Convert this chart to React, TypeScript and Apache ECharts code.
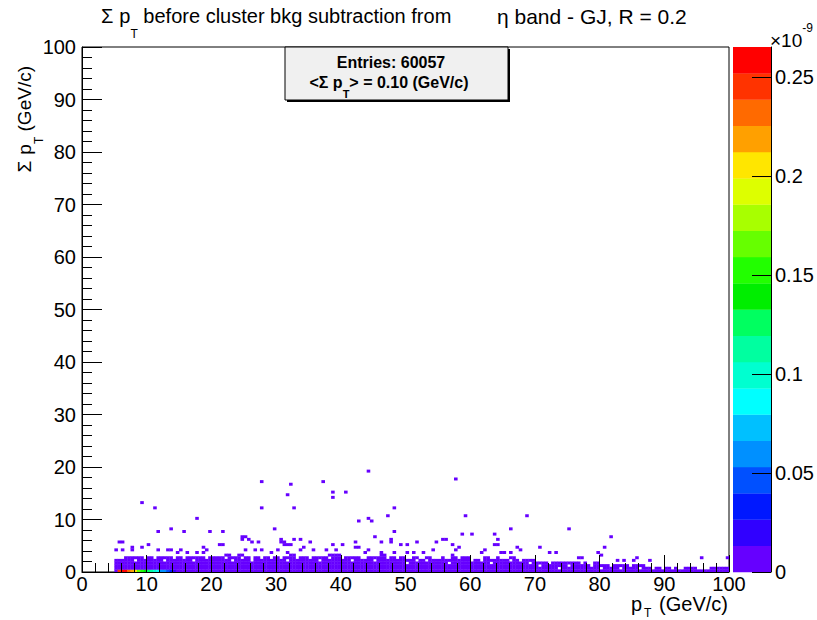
import React, { useEffect, useRef } from "react";
import * as echarts from "echarts";

// ---------------- data ----------------
const X_BIN = 0.5; // GeV/c
const Y_BIN = 0.5; // GeV/c
const Z_MAX = 0.2653; // colour scale maximum (x1e-9)
const DENSE_Z = 0.004; // content of the (violet) populated low bins

const X_TICKS = [0, 10, 20, 30, 40, 50, 60, 70, 80, 90, 100];
const Z_TICKS = [0, 0.05, 0.1, 0.15, 0.2, 0.25];

// ROOT "pretty" palette, 20 contours, from low (violet) to high (red)
const PALETTE = [
  "#6600ff", "#3000ff", "#0018ff", "#0050ff", "#0090ff",
  "#00c0ff", "#00ffff", "#00ffd0", "#00ffa0", "#00ff60",
  "#00ee00", "#22ff00", "#66ff00", "#a8ff00", "#ddff00",
  "#ffe600", "#ffa000", "#ff6a00", "#ff3300", "#ff0000",
];

// bottom row (lowest Σp_T bin), high-content bins at low p_T
const BOTTOM_X = [5.0, 5.5, 6.0, 6.5, 7.0, 7.5, 8.0, 8.5, 9.0, 9.5, 10.0, 10.5, 11.0, 11.5, 12.0, 12.5, 13.0, 13.5, 14.0, 14.5];
const BOTTOM_Z = [0.01, 0.25, 0.265, 0.255, 0.23, 0.215, 0.2, 0.17, 0.155, 0.145, 0.13, 0.11, 0.095, 0.085, 0.065, 0.055, 0.045, 0.035, 0.02, 0.012];

// populated band: for each 1 GeV/c column from p_T = 5, number of filled 0.5 GeV/c rows
const BAND_X0 = 5;
const BAND_ROWS = [
  5, 6, 6, 6, 6, 6, 6, 6, 6, 6,
  6, 6, 6, 6, 6, 6, 6, 7, 6, 7,
  6, 6, 6, 6, 6, 6, 6, 7, 6, 6,
  6, 6, 6, 7, 7, 6, 6, 6, 5, 6,
  6, 7, 6, 6, 6, 5, 6, 5, 6, 5,
  6, 5, 6, 6, 6, 5, 5, 6, 5, 6,
  5, 6, 5, 5, 5, 4, 4, 4, 4, 4,
  4, 4, 4, 3, 4, 3, 3, 3, 3, 3,
  3, 3, 2, 2, 2, 2, 2, 1, 2, 2,
  1, 1, 2, 2, 2,
];

// empty bins inside the band [p_T, Σp_T]
const HOLES = [
  [6.3, 2.7], [8.1, 2.2], [9.6, 2.7], [11.2, 2.7], [12.6, 2.2], [14.1, 2.7], [15.7, 2.7], [17.3, 2.2], [19.3, 2.7], [22.1, 2.7],
  [23.4, 2.2], [24.7, 2.7], [26.0, 2.7], [26.2, 2.0], [27.8, 2.7], [29.3, 2.7], [30.6, 2.7], [31.7, 2.1], [33.2, 2.7], [35.1, 2.7],
  [36.6, 2.2], [38.2, 2.7], [40.3, 2.7], [41.7, 2.2], [43.9, 2.7], [45.4, 2.2], [47.0, 2.7], [48.6, 2.7], [50.1, 1.7], [51.5, 2.2],
  [53.3, 2.2], [55.2, 2.7], [56.8, 1.7], [58.4, 2.7], [60.2, 2.2], [61.7, 2.2], [63.4, 1.7], [64.6, 2.7], [66.3, 2.2], [67.8, 2.2],
  [69.4, 1.7], [70.6, 1.2], [72.2, 1.7], [73.7, 0.7], [75.4, 1.2], [77.1, 1.7], [78.6, 1.2], [80.3, 0.7], [81.8, 1.2], [83.4, 0.7],
  [84.9, 1.2], [86.1, 0.7], [88.4, 0.7], [89.6, 0.7], [91.3, 0.7], [96.7, 0.7],
];

// isolated populated bins above the band [p_T, Σp_T]
const SPARSE = [
  [27.7, 17.1], [32.3, 16.7], [37.2, 17.2], [31.8, 14.7], [38.7, 15.1], [38.7, 14.3], [40.8, 15.1], [44.2, 19.2], [57.7, 17.9],
  [9.1, 13.1], [11.2, 12.2], [27.7, 12.2], [32.7, 12.2], [48.2, 12.2], [47.2, 10.7], [17.7, 10.2], [42.7, 9.6], [44.9, 9.6], [44.2, 10.2],
  [13.7, 8.3], [11.8, 7.6], [15.8, 7.9], [19.7, 7.6], [21.8, 7.6], [29.7, 8.0], [48.2, 7.6], [45.3, 6.7], [25.3, 6.7], [24.8, 6.3],
  [26.2, 5.9], [27.2, 5.9], [32.7, 6.3], [30.8, 5.9], [35.2, 5.6], [46.2, 5.9], [47.7, 5.9], [5.5, 5.9], [5.8, 5.5], [6.4, 5.5],
  [10.2, 5.1], [21.5, 5.1], [31.2, 5.1], [31.9, 5.1], [38.9, 5.1], [40.4, 5.1], [42.3, 5.6], [42.3, 4.5], [49.3, 5.1],
  [59.3, 10.7], [68.7, 10.7], [66.3, 8.4], [75.3, 8.0], [58.8, 7.2], [60.2, 7.2], [63.8, 7.2], [81.7, 6.7], [64.3, 6.0], [64.3, 5.1],
  [55.8, 6.0], [56.4, 6.0], [54.7, 5.6], [51.8, 5.6], [50.3, 5.1], [57.3, 5.1], [58.3, 4.7], [57.8, 4.3], [62.3, 4.4], [67.3, 4.7],
  [67.7, 4.0], [70.8, 4.7], [80.8, 4.7], [66.1, 3.9], [65.3, 3.7], [73.4, 3.9], [72.3, 3.6], [95.8, 2.7], [99.7, 2.7], [85.7, 2.7], [87.8, 2.1],
  [76.5, 2.7], [77.2, 2.7], [79.5, 3.7], [80.0, 3.2], [82.6, 2.3], [83.7, 2.3], [85.2, 2.1],
  [5.1, 4.0], [6.4, 4.0], [7.7, 4.7], [7.9, 4.0], [9.1, 4.7], [11.8, 4.0], [13.2, 4.4], [13.8, 4.0], [14.6, 3.6], [15.1, 4.0],
  [16.3, 3.6], [17.7, 3.6], [18.7, 3.6], [19.2, 4.0], [24.7, 6.5], [25.5, 6.1], [30.9, 6.1], [31.0, 5.6], [32.1, 5.3], [33.7, 6.1],
  [34.0, 4.6], [21.1, 5.3], [18.7, 4.6], [19.3, 4.2], [25.2, 4.4], [26.5, 4.0], [27.8, 4.0], [29.1, 3.6], [30.1, 4.0], [31.6, 3.6],
  [33.7, 4.4], [38.6, 5.3], [40.1, 5.3], [42.5, 4.8], [44.3, 4.0], [47.6, 6.1], [49.4, 5.3], [35.8, 4.0], [37.6, 4.4], [39.4, 4.2],
  [43.7, 3.6], [46.1, 3.6], [48.1, 3.6], [50.2, 3.6], [63.8, 5.1], [51.7, 5.6], [54.6, 5.6], [51.0, 3.6], [52.5, 3.6], [54.3, 4.0],
  [57.4, 3.1], [61.8, 3.6], [62.3, 4.0], [64.9, 3.6],
];

const ENTRIES = "60057";
const MEAN_SUMPT = "0.10";

// ---------------- helpers ----------------
const FONT = "Liberation Sans";

function colorFor(z: number) {
  const i = Math.min(PALETTE.length - 1, Math.max(0, Math.floor((z / Z_MAX) * PALETTE.length)));
  return PALETTE[i];
}

function buildCells() {
  const map = new Map<string, number[]>();
  const key = (xi: number, yi: number) => xi + "_" + yi;
  const put = (xi: number, yi: number, z: number) => {
    map.set(key(xi, yi), [xi * X_BIN, yi * Y_BIN, z]);
  };
  BAND_ROWS.forEach((rows, c) => {
    const x = BAND_X0 + c;
    for (let s = 0; s < 2; s++) {
      const xi = Math.round(x / X_BIN) + s;
      for (let r = 0; r < rows; r++) put(xi, r, DENSE_Z);
    }
  });
  HOLES.forEach(([x, y]) => map.delete(key(Math.floor(x / X_BIN), Math.floor(y / Y_BIN))));
  SPARSE.forEach(([x, y]) => put(Math.floor(x / X_BIN), Math.floor(y / Y_BIN), DENSE_Z));
  BOTTOM_X.forEach((x, i) => put(Math.round(x / X_BIN), 0, BOTTOM_Z[i]));
  return Array.from(map.values());
}

function subRich(size: number, subSize: number, offset: number, bold = false, lhMain?: number) {
  const lh = lhMain ?? Math.round(size * 1.25);
  const fw = bold ? "bold" : "normal";
  return {
    m: { fontSize: size, fontFamily: FONT, fontWeight: fw, color: "#000", lineHeight: lh, verticalAlign: "top" },
    s: { fontSize: subSize, fontFamily: FONT, fontWeight: fw, color: "#000", lineHeight: 2 * (lh / 2 + offset), verticalAlign: "middle" },
    g1: { fontSize: size, fontFamily: FONT, lineHeight: lh, verticalAlign: "top", width: 6 },
  };
}

function plainText(text: string, x: number, y: number, size: number, align: string, extra: any = {}) {
  return {
    type: "text", x: 0, y: 0, z: 10,
    style: { x, y, text, align, verticalAlign: "middle", fontSize: size, fontFamily: FONT, fill: "#000", lineHeight: size, ...extra },
  };
}

export default function App() {
  const ref = useRef<HTMLDivElement>(null);
  useEffect(() => {
    const chart = echarts.init(ref.current!, null, { renderer: "svg", width: 817, height: 620 });
    const cells = buildCells();
    const bands = PALETTE.map((_, i) => [i]);
    const axisCommon = {
      z: 10,
      axisLine: { show: true, onZero: false, lineStyle: { color: "#000", width: 1 } },
      splitLine: { show: false },
    };
    const option: any = {
      animation: false,
      backgroundColor: "#ffffff",
      textStyle: { fontFamily: FONT },
      grid: [
        { left: 82, top: 47, width: 647, height: 525, show: true, borderColor: "#000", borderWidth: 1, backgroundColor: "transparent", z: 0 },
        { left: 733, top: 47, width: 38, height: 525 },
      ],
      xAxis: [
        {
          gridIndex: 0, type: "value", min: 0, max: 100, interval: 10, ...axisCommon,
          axisTick: { show: true, inside: true, length: 17, lineStyle: { color: "#000" } },
          minorTick: { show: true, splitNumber: 5, length: 9, lineStyle: { color: "#000" } },
          axisLabel: { fontSize: 20, lineHeight: 16, color: "#000", margin: 4, fontFamily: FONT, customValues: X_TICKS },
        },
        { gridIndex: 1, type: "value", min: 0, max: 1, show: false },
      ],
      yAxis: [
        {
          gridIndex: 0, type: "value", min: 0, max: 100, interval: 10, position: "left", ...axisCommon,
          axisTick: { show: true, inside: true, length: 20, lineStyle: { color: "#000" } },
          minorTick: { show: true, splitNumber: 5, length: 10, lineStyle: { color: "#000" } },
          axisLabel: { fontSize: 20, color: "#000", margin: 6, fontFamily: FONT },
        },
        {
          gridIndex: 1, type: "value", min: 0, max: Z_MAX, position: "right", offset: 0, ...axisCommon,
          axisTick: { show: true, inside: true, length: 19, customValues: Z_TICKS, lineStyle: { color: "#000" } },
          axisLabel: { show: true, fontSize: 20, color: "#000", margin: 4, fontFamily: FONT, customValues: Z_TICKS, formatter: (v: number) => String(v) },
        },
      ],
      series: [
        {
          type: "custom",
          xAxisIndex: 0,
          yAxisIndex: 0,
          clip: true,
          z: 1,
          data: cells,
          renderItem: (_p: any, api: any) => {
            const x = api.value(0), y = api.value(1), z = api.value(2);
            const p0 = api.coord([x, y]);
            const p1 = api.coord([x + X_BIN, y + Y_BIN]);
            return {
              type: "rect",
              shape: { x: p0[0], y: p1[1], width: p1[0] - p0[0] + 0.35, height: p0[1] - p1[1] + 0.35 },
              style: { fill: colorFor(z) },
            };
          },
        },
        {
          type: "custom",
          xAxisIndex: 1,
          yAxisIndex: 1,
          z: 1,
          data: bands,
          renderItem: (_p: any, api: any) => {
            const i = api.value(0);
            const lo = (i * Z_MAX) / PALETTE.length;
            const hi = ((i + 1) * Z_MAX) / PALETTE.length;
            const p0 = api.coord([0, lo]);
            const p1 = api.coord([1, hi]);
            return {
              type: "rect",
              shape: { x: p0[0], y: p1[1], width: p1[0] - p0[0], height: p0[1] - p1[1] + 0.3 },
              style: { fill: PALETTE[i] },
            };
          },
        },
      ],
      graphic: [
        // title (two pieces, as ROOT's TLatex leaves a gap before the η)
        {
          type: "text", x: 0, y: 0, z: 10,
          style: {
            x: 101, y: 6, align: "left", verticalAlign: "top",
            text: "{m|Σ}{g1| }{m|p}{s|T}{m| before cluster bkg subtraction from}",
            rich: subRich(20, 12, 15),
          },
        },
        {
          type: "text", x: 0, y: 0, z: 10,
          style: {
            x: 497, y: 6, align: "left", verticalAlign: "top",
            text: "{m|η band - GJ, R = 0.2}",
            rich: subRich(21, 12, 15),
          },
        },
        // x axis title: p_T (GeV/c)
        plainText("p", 631, 604, 20, "left", { lineHeight: 18 }),
        plainText("T", 644, 613, 12, "left"),
        plainText("(GeV/c)", 728, 604, 20, "right", { lineHeight: 18 }),
        // y axis title
        {
          type: "text", x: 15, y: 66, rotation: Math.PI / 2, z: 10,
          style: {
            x: 0, y: 0, align: "right", verticalAlign: "top",
            text: "{m|Σ}{g1| }{m|p}{s|T}{m| (GeV/c)}",
            rich: subRich(19, 12, 12),
          },
        },
        // palette exponent
        {
          type: "text", x: 0, y: 0, z: 10,
          style: {
            x: 770, y: 22, align: "left", verticalAlign: "top",
            text: "{m|×10}{e|-9}",
            rich: {
              m: { fontSize: 19, fontFamily: FONT, color: "#000", lineHeight: 28, verticalAlign: "bottom" },
              e: { fontSize: 12, fontFamily: FONT, color: "#000", lineHeight: 12, verticalAlign: "top" },
            },
          },
        },
        // stats box
        { type: "rect", z: 9, shape: { x: 287, y: 49, width: 223, height: 53 }, style: { fill: "#000" } },
        { type: "rect", z: 10, shape: { x: 285, y: 47, width: 223, height: 53 }, style: { fill: "#f0f0f0", stroke: "#000", lineWidth: 1 } },
        {
          type: "text", z: 11, x: 0, y: 0,
          style: { x: 391, y: 62, align: "center", verticalAlign: "middle", text: "Entries: " + ENTRIES, fontSize: 16, fontWeight: "bold", fontFamily: FONT, fill: "#000" },
        },
        {
          type: "text", z: 11, x: 0, y: 0,
          style: {
            x: 389, y: 74, align: "center", verticalAlign: "top",
            text: "{m|<Σ p}{s|T}{m|> = " + MEAN_SUMPT + " (GeV/c)}",
            rich: subRich(16, 11, 10, true),
          },
        },
      ],
    };
    chart.setOption(option);
    return () => chart.dispose();
  }, []);
  return <div ref={ref} style={{ position: "absolute", left: 0, top: 0, width: 817, height: 620, background: "#fff" }} />;
}
